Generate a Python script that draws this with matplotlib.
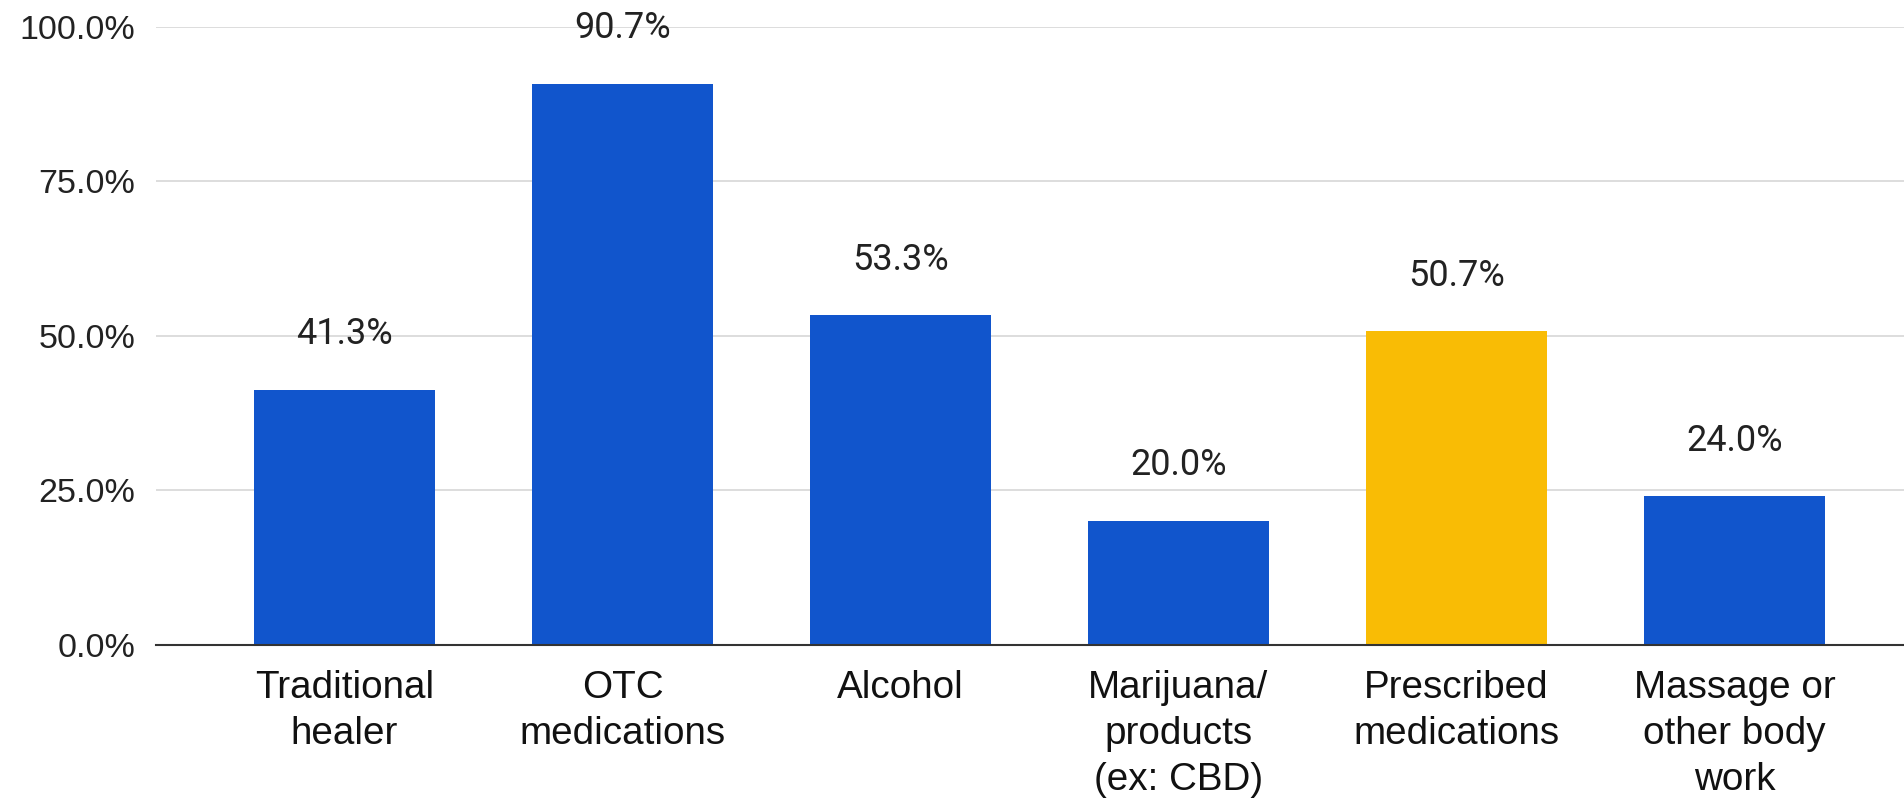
import matplotlib
matplotlib.use("Agg")
import matplotlib.pyplot as plt
import numpy as np

# data
categories = ["Traditional\nhealer", "OTC\nmedications", "Alcohol",
              "Marijuana/\nproducts\n(ex: CBD)", "Prescribed\nmedications",
              "Massage or\nother body\nwork"]
values = [41.3, 90.7, 53.3, 20.0, 50.7, 24.0]
highlight = "Prescribed\nmedications"

blue = "#1155CC"
yellow = "#F9BC05"

fig = plt.figure(figsize=(19.04, 8), dpi=100)
ax = fig.add_axes([156/1904, 1-644.8/800, 1-156/1904, (644.8-26.7)/800])

x = np.arange(len(categories))
colors = [yellow if c == highlight else blue for c in categories]
bars = ax.bar(x, values, width=0.65, color=colors, zorder=3)

# value labels above bars
for xi, v in zip(x, values):
    ax.annotate("%.1f%%" % v, (xi, v), xytext=(0, 33), textcoords="offset points",
                ha="center", va="baseline", fontsize=26, family="Roboto",
                color="#222222")

ax.set_ylim(0, 100)
ax.set_xlim(-0.678, 5.61)
yt = [0, 25, 50, 75, 100]
ax.set_yticks(yt)
ax.set_yticklabels(["%.1f%%" % t for t in yt], family="Liberation Sans",
                   fontsize=24.5, color="#222222")
ax.set_xticks(x)
ax.set_xticklabels(categories, family="Liberation Sans", fontsize=27.8,
                   color="#111111", linespacing=1.36, va="top")
ax.tick_params(axis="both", length=0)
ax.tick_params(axis="y", pad=15)
ax.tick_params(axis="x", pad=18)

ax.grid(axis="y", color="#DDDDDD", lw=1.4, zorder=0)
for s in ["top", "right", "left"]:
    ax.spines[s].set_visible(False)
ax.spines["bottom"].set_color("#333333")
ax.spines["bottom"].set_linewidth(1.5)
ax.spines["bottom"].set_zorder(4)

fig.savefig("out.png", dpi=100)
